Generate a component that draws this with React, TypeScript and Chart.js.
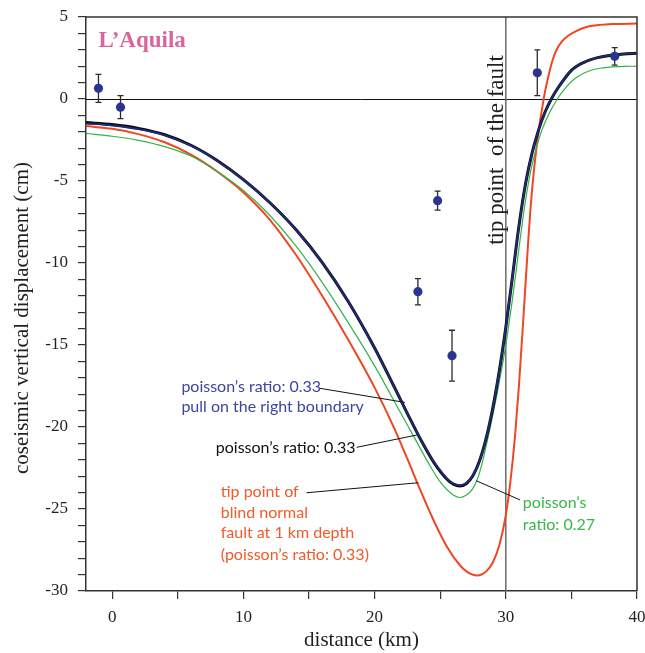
import React, { useEffect, useRef } from "react";
import { Chart, registerables } from "chart.js";
Chart.register(...registerables);

// ---- axes ----
const X_MIN = -2;
const X_MAX = 40;
const Y_MIN = -30;
const Y_MAX = 5;
const X_TICKS = [0, 5, 10, 15, 20, 25, 30, 35, 40];
const Y_TICKS = [-30, -29, -28, -27, -26, -25, -24, -23, -22, -21, -20, -19, -18, -17, -16, -15, -14, -13, -12, -11, -10, -9, -8, -7, -6, -5, -4, -3, -2, -1, 0, 1, 2, 3, 4, 5];
const FAULT_X = 30;

// ---- model curves (cm) ----
// poisson's ratio 0.33, pull on the right boundary (navy)
const PULL_X = [-2, 0, 2, 4, 6, 8, 10, 12, 14, 16, 18, 20, 21.5, 22.5, 23.5, 24.5, 25.5, 26, 26.5, 27, 27.5, 28, 28.5, 29, 29.5, 30, 30.5, 31, 31.5, 32, 32.5, 33, 33.5, 34, 35, 36, 37, 38, 39, 40];
const PULL_Y = [-1.5, -1.615, -1.84, -2.21, -2.84, -3.76, -4.92, -6.31, -7.96, -9.96, -12.36, -15.18, -17.56, -19.18, -20.73, -22.11, -23.13, -23.44, -23.55, -23.4, -22.93, -22.05, -20.7, -18.88, -16.6, -13.93, -10.88, -7.75, -5.18, -3.3, -1.88, -0.78, 0.05, 0.7, 1.75, 2.25, 2.52, 2.67, 2.75, 2.79];

// poisson's ratio 0.33 (black)
const P33_X = [-2, 0, 2, 4, 6, 8, 10, 12, 14, 16, 18, 20, 21.5, 22.5, 23.5, 24.5, 25.5, 26, 26.5, 27, 27.5, 28, 28.5, 29, 29.5, 30, 30.5, 31, 31.5, 32, 32.5, 33, 33.5, 34, 35, 36, 37, 38, 39, 40];
const P33_Y = [-1.44, -1.56, -1.79, -2.18, -2.82, -3.75, -4.92, -6.31, -7.96, -9.96, -12.36, -15.18, -17.56, -19.18, -20.75, -22.14, -23.17, -23.49, -23.6, -23.45, -22.96, -22.06, -20.7, -18.88, -16.6, -13.93, -10.88, -7.75, -5.18, -3.3, -1.88, -0.78, 0.05, 0.7, 1.75, 2.25, 2.52, 2.67, 2.75, 2.79];

// poisson's ratio 0.27 (green)
const P27_X = [-2, 0, 2, 4, 6, 8, 10, 12, 14, 16, 18, 20, 22, 23, 24, 25, 26, 26.5, 27, 27.4, 27.8, 28.2, 28.6, 29, 29.4, 29.8, 30.1, 30.5, 30.9, 31.3, 31.6, 32, 32.6, 33.3, 34, 34.6, 35.2, 35.9, 36.7, 37.4, 38.2, 39, 40];
const P27_Y = [-2.1, -2.27, -2.52, -2.9, -3.48, -4.42, -5.58, -7.09, -8.96, -11.18, -13.65, -16.27, -19.16, -20.6, -22.05, -23.35, -24.15, -24.3, -24.15, -23.85, -23.25, -22.2, -20.8, -19.3, -17.7, -15.96, -14.49, -12.25, -9.75, -7.29, -5.7, -4.02, -2.25, -0.89, 0.09, 0.72, 1.2, 1.55, 1.8, 1.9, 1.96, 1.99, 2.0];

// tip point of blind normal fault at 1 km depth (red)
const BLIND_X = [-2, 0, 2, 4, 6, 8, 10, 12, 14, 16, 18, 20, 21.5, 22.5, 23.5, 24.5, 25.5, 26.5, 27, 27.5, 27.8, 28.5, 29, 29.5, 30, 30.35, 30.7, 31, 31.4, 31.7, 32, 32.4, 32.9, 33.25, 33.6, 33.9, 34.3, 34.7, 35.4, 36.2, 37.2, 38.2, 40];
const BLIND_Y = [-1.65, -1.82, -2.14, -2.64, -3.39, -4.42, -5.7, -7.35, -9.5, -12.0, -14.7, -17.6, -20.08, -21.95, -23.88, -25.7, -27.28, -28.43, -28.8, -29.01, -29.05, -28.805, -28.28, -27.23, -25.38, -23.33, -20.58, -17.5, -12.6, -8.78, -5.55, -2.55, 0.07, 1.4, 2.45, 3.05, 3.53, 3.83, 4.16, 4.4, 4.52, 4.57, 4.6];

// ---- observations ----
const OBS_X = [-1.05, 0.63, 23.3, 24.8, 25.9, 32.4, 38.3];
const OBS_Y = [0.65, -0.5, -11.75, -6.2, -15.65, 1.6, 2.6];
const OBS_ERR = [0.85, 0.7, 0.8, 0.58, 1.55, 1.4, 0.53];

const SERIF = '"Liberation Serif", "Times New Roman", serif';
const SANS = 'Lato, "Open Sans", sans-serif';

const pts = (xs: number[], ys: number[]) => xs.map((x, i) => ({ x, y: ys[i] }));

const overlay = {
  id: "overlay",
  beforeDatasetsDraw(chart: any) {
    const { ctx, chartArea: a, scales } = chart;
    const xs = scales.x;
    const ys = scales.y;
    ctx.save();
    // zero line
    const y0 = Math.round(ys.getPixelForValue(0)) + 0.5;
    ctx.strokeStyle = "#111";
    ctx.lineWidth = 1;
    ctx.beginPath();
    ctx.moveTo(a.left, y0);
    ctx.lineTo(a.right, y0);
    ctx.stroke();
    // fault tip line
    const xf = xs.getPixelForValue(FAULT_X);
    ctx.strokeStyle = "#6a6a6a";
    ctx.lineWidth = 1.5;
    ctx.beginPath();
    ctx.moveTo(xf, a.top);
    ctx.lineTo(xf, a.bottom);
    ctx.stroke();
    // error bars
    ctx.strokeStyle = "#2b2b2b";
    ctx.lineWidth = 1.3;
    OBS_X.forEach((xv, i) => {
      const px = xs.getPixelForValue(xv);
      const top = ys.getPixelForValue(OBS_Y[i] + OBS_ERR[i]);
      const bot = ys.getPixelForValue(OBS_Y[i] - OBS_ERR[i]);
      ctx.beginPath();
      ctx.moveTo(px, top);
      ctx.lineTo(px, bot);
      ctx.moveTo(px - 3, top);
      ctx.lineTo(px + 3, top);
      ctx.moveTo(px - 3, bot);
      ctx.lineTo(px + 3, bot);
      ctx.stroke();
    });
    ctx.restore();
  },
  afterDatasetsDraw(chart: any) {
    const { ctx, chartArea: a, scales } = chart;
    const xs = scales.x;
    const ys = scales.y;
    const X = (v: number) => xs.getPixelForValue(v);
    const Y = (v: number) => ys.getPixelForValue(v);
    ctx.save();
    // frame top & right
    ctx.strokeStyle = "#333";
    ctx.lineWidth = 1.5;
    ctx.beginPath();
    ctx.moveTo(a.left, a.top);
    ctx.lineTo(a.right, a.top);
    ctx.lineTo(a.right, a.bottom);
    ctx.stroke();

    // leader lines
    ctx.strokeStyle = "#111";
    ctx.lineWidth = 1;
    const lead = (x1: number, y1: number, x2: number, y2: number) => {
      ctx.beginPath();
      ctx.moveTo(X(x1), Y(y1));
      ctx.lineTo(X(x2), Y(y2));
      ctx.stroke();
    };
    lead(15.82, -17.64, 22.31, -18.5);
    lead(18.63, -21.24, 23.21, -20.49);
    lead(14.81, -24.01, 23.33, -23.4);
    lead(27.73, -23.27, 31.09, -24.45);

    // labels
    ctx.textBaseline = "middle";
    ctx.textAlign = "left";
    ctx.font = `16px ${SANS}`;
    ctx.fillStyle = "#3c46a0";
    ctx.fillText("poisson\u2019s ratio: 0.33", X(5.27), Y(-17.54));
    ctx.fillText("pull on the right boundary", X(5.27), Y(-18.76));
    ctx.fillStyle = "#111";
    ctx.fillText("poisson\u2019s ratio: 0.33", X(7.89), Y(-21.3));
    ctx.fillStyle = "#f15a29";
    ctx.fillText("tip point of", X(8.27), Y(-23.95));
    ctx.fillText("blind normal", X(8.27), Y(-25.23));
    ctx.fillText("fault at 1 km depth", X(8.27), Y(-26.46));
    ctx.fillText("(poisson\u2019s ratio: 0.33)", X(8.27), Y(-27.8));
    ctx.fillStyle = "#39b54a";
    ctx.fillText("poisson\u2019s", X(31.3), Y(-24.63));
    ctx.fillText("ratio: 0.27", X(31.3), Y(-25.98));

    // site title
    ctx.textBaseline = "alphabetic";
    ctx.font = `bold 23px ${SERIF}`;
    ctx.fillStyle = "#d9649f";
    ctx.fillText("L\u2019Aquila", X(-1.05), Y(3.19));

    // fault label (rotated)
    ctx.save();
    ctx.translate(X(29.77), Y(-3.11));
    ctx.rotate(-Math.PI / 2);
    ctx.textAlign = "center";
    ctx.textBaseline = "alphabetic";
    ctx.font = `23px ${SERIF}`;
    ctx.fillStyle = "#231f20";
    ctx.fillText("tip point  of the fault", 0, 0);
    ctx.restore();

    // axis titles
    ctx.font = `21px ${SERIF}`;
    ctx.fillStyle = "#231f20";
    ctx.textAlign = "center";
    ctx.textBaseline = "middle";
    ctx.fillText("distance (km)", (a.left + a.right) / 2, 640);
    ctx.save();
    ctx.translate(22, 318);
    ctx.rotate(-Math.PI / 2);
    ctx.fillText("coseismic vertical displacement (cm)", 0, 0);
    ctx.restore();

    ctx.restore();
  },
};

export default function App() {
  const ref = useRef<HTMLCanvasElement | null>(null);
  useEffect(() => {
    if (!ref.current) return;
    const chart = new Chart(ref.current, {
      type: "line",
      data: {
        datasets: [
          {
            label: "observed",
            data: pts(OBS_X, OBS_Y),
            showLine: false,
            pointRadius: 4.6,
            pointBackgroundColor: "#2a3590",
            pointBorderWidth: 0,
            pointBorderColor: "#2a3590",
            order: 0,
          },
          {
            label: "poisson's ratio 0.33, pull on the right boundary",
            data: pts(PULL_X, PULL_Y),
            borderColor: "#1f2a78",
            borderWidth: 1.8,
            pointRadius: 0,
            cubicInterpolationMode: "monotone",
            order: 1,
          },
          {
            label: "poisson's ratio 0.33",
            data: pts(P33_X, P33_Y),
            borderColor: "#0d0d0d",
            borderWidth: 3,
            pointRadius: 0,
            cubicInterpolationMode: "monotone",
            order: 2,
          },
          {
            label: "poisson's ratio 0.27",
            data: pts(P27_X, P27_Y),
            borderColor: "#2fb44a",
            borderWidth: 1.2,
            pointRadius: 0,
            cubicInterpolationMode: "monotone",
            order: 3,
          },
          {
            label: "blind normal fault",
            data: pts(BLIND_X, BLIND_Y),
            borderColor: "#ef4723",
            borderWidth: 2,
            pointRadius: 0,
            cubicInterpolationMode: "monotone",
            order: 4,
          },
        ],
      },
      options: {
        animation: false,
        responsive: true,
        maintainAspectRatio: false,
        layout: { padding: { top: 17, right: 8, left: 0, bottom: 0 } },
        plugins: { legend: { display: false }, tooltip: { enabled: false } },
        scales: {
          x: {
            type: "linear",
            min: X_MIN,
            max: X_MAX,
            afterBuildTicks: (s: any) => {
              s.ticks = X_TICKS.map((v) => ({ value: v }));
            },
            afterFit: (s: any) => {
              s.height = 62;
              s.paddingLeft = 0;
              s.paddingRight = 0;
            },
            ticks: {
              autoSkip: false,
              maxRotation: 0,
              padding: 8,
              color: "#231f20",
              font: { family: SERIF, size: 17 },
              callback: (v: any) => (Number(v) % 10 === 0 ? String(v) : ""),
            },
            grid: { drawOnChartArea: false, drawTicks: true, tickLength: 8, color: "#333", lineWidth: 1.2 },
            border: { display: true, color: "#333", width: 1.5 },
          },
          y: {
            type: "linear",
            min: Y_MIN,
            max: Y_MAX,
            afterBuildTicks: (s: any) => {
              s.ticks = Y_TICKS.map((v) => ({ value: v }));
            },
            afterFit: (s: any) => {
              s.width = 86;
              s.paddingTop = 0;
              s.paddingBottom = 0;
            },
            ticks: {
              autoSkip: false,
              padding: 10,
              color: "#231f20",
              font: { family: SERIF, size: 17 },
              callback: (v: any) => (Number(v) % 5 === 0 ? String(v) : ""),
            },
            grid: { drawOnChartArea: false, drawTicks: true, tickLength: 8, color: "#333", lineWidth: 1.2 },
            border: { display: true, color: "#333", width: 1.5 },
          },
        },
      },
      plugins: [overlay],
    } as any);
    return () => chart.destroy();
  }, []);
  return (
    <div style={{ position: "absolute", left: 0, top: 0, width: 645, height: 653, background: "#fff" }}>
      <canvas ref={ref} />
    </div>
  );
}
